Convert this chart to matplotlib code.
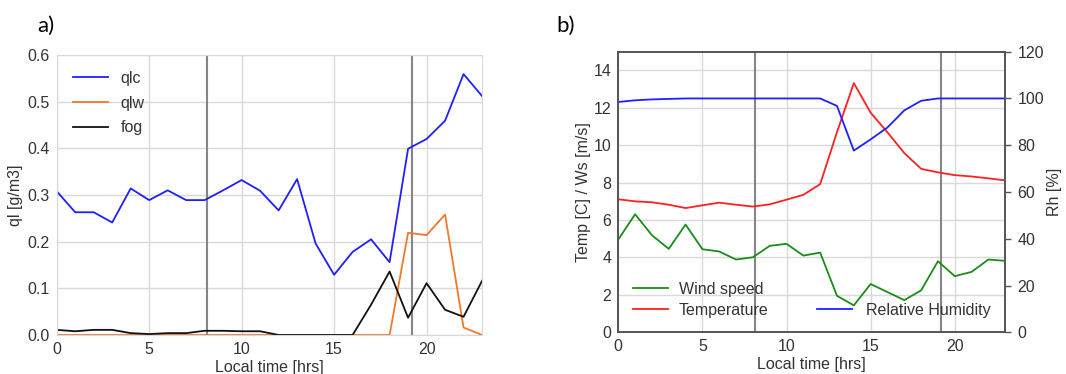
import matplotlib.pyplot as plt

# hourly values, local time 0..23
hours = list(range(24))

qlc = [0.308, 0.263, 0.263, 0.241, 0.314, 0.289, 0.310, 0.289, 0.289, 0.310,
       0.332, 0.309, 0.267, 0.334, 0.196, 0.129, 0.178, 0.205, 0.156, 0.399,
       0.420, 0.459, 0.559, 0.512]
qlw = [0.0, 0.0, 0.0, 0.0, 0.0, 0.0, 0.0, 0.0, 0.0, 0.0,
       0.0, 0.0, 0.0, 0.0, 0.0, 0.0, 0.0, 0.0, 0.0, 0.219,
       0.214, 0.258, 0.016, 0.0]
fog = [0.011, 0.008, 0.011, 0.011, 0.004, 0.002, 0.004, 0.004, 0.009, 0.009,
       0.008, 0.008, 0.0, 0.0, 0.0, 0.0, 0.0, 0.065, 0.136, 0.037,
       0.111, 0.054, 0.039, 0.116]

wind = [4.96, 6.31, 5.19, 4.46, 5.76, 4.44, 4.32, 3.89, 4.01, 4.62,
        4.73, 4.10, 4.26, 1.95, 1.44, 2.58, 2.15, 1.72, 2.24, 3.80,
        3.00, 3.23, 3.89, 3.82]
temp = [7.11, 7.00, 6.95, 6.82, 6.64, 6.79, 6.93, 6.82, 6.72, 6.84,
        7.09, 7.35, 7.92, 10.7, 13.32, 11.74, 10.69, 9.58, 8.74, 8.55,
        8.40, 8.33, 8.23, 8.12]
rh = [98.5, 99.2, 99.6, 99.8, 100, 100, 100, 100, 100, 100,
      100, 100, 100, 96.8, 77.7, 82.5, 87.6, 94.9, 99.0, 100,
      100, 100, 100, 100]

# sunrise / sunset markers
sun_times = [8.15, 19.2]

txt = '#333333'
grid_c = '#d9d9d9'
plt.rcParams['font.family'] = ['Liberation Sans', 'DejaVu Sans']
plt.rcParams['font.size'] = 11.5
plt.rcParams['text.color'] = txt
plt.rcParams['axes.labelcolor'] = txt
plt.rcParams['xtick.color'] = txt
plt.rcParams['ytick.color'] = txt

fig = plt.figure(figsize=(10.66, 3.74), dpi=100)
ax1 = fig.add_axes([0.0532, 0.1043, 0.399, 0.7487])
ax2 = fig.add_axes([0.580, 0.1115, 0.363, 0.7503])


def style(ax):
    ax.set_xlim(0, 23)
    ax.grid(True, color=grid_c, linewidth=1)
    ax.set_axisbelow(True)
    ax.tick_params(length=0, pad=5)
    ax.set_xticks([0, 5, 10, 15, 20])
    for t in sun_times:
        ax.axvline(t, color='#858585', linewidth=1.5, zorder=1)
    ax.set_xlabel('Local time [hrs]', labelpad=2)


# a) liquid water content
style(ax1)
ax1.plot(hours, qlc, color='#1f1fff', lw=1.3, label='qlc')
ax1.plot(hours, qlw, color='#ee7a2a', lw=1.3, label='qlw')
ax1.plot(hours, fog, color='#111111', lw=1.3, label='fog')
ax1.set_ylim(0, 0.6)
ax1.set_yticks([0, 0.1, 0.2, 0.3, 0.4, 0.5, 0.6])
ax1.set_yticklabels(['0.0', '0.1', '0.2', '0.3', '0.4', '0.5', '0.6'])
ax1.set_ylabel('ql [g/m3]', labelpad=3)
for s in ax1.spines.values():
    s.set_color(grid_c)
ax1.legend(loc='upper left', frameon=False, handlelength=2.2,
           handletextpad=0.8, labelspacing=0.6, borderaxespad=0.6)

# b) wind, temperature and humidity
style(ax2)
ax2.plot(hours, wind, color='#1a8c1a', lw=1.3, label='Wind speed')
ax2.plot(hours, temp, color='#ff2020', lw=1.3, label='Temperature')
ax2.set_ylim(0, 15)
ax2.set_yticks(range(0, 15, 2))
ax2.set_ylabel('Temp [C] / Ws [m/s]', labelpad=2)
for s in ax2.spines.values():
    s.set_color('#555555')
    s.set_linewidth(1.2)
ax2.legend(loc='lower left', frameon=False, handlelength=2.2,
           handletextpad=0.7, labelspacing=0.4, borderaxespad=0.5)

ax3 = ax2.twinx()
ax3.plot(hours, rh, color='#1f1fff', lw=1.3, label='Relative Humidity')
ax3.set_ylim(0, 120)
ax3.set_yticks(range(0, 121, 20))
ax3.tick_params(length=4, width=1, color='#555555', pad=5)
ax3.set_ylabel('Rh [%]', labelpad=2)
for s in ax3.spines.values():
    s.set_color('#555555')
    s.set_linewidth(1.2)
ax3.legend(loc='lower right', frameon=False, handlelength=2.2,
           handletextpad=0.9, borderaxespad=0.5)

fig.text(0.035, 0.915, 'a)', fontsize=16, family=['Lato', 'DejaVu Sans'], color='black')
fig.text(0.522, 0.915, 'b)', fontsize=16, family=['Lato', 'DejaVu Sans'], color='black')

fig.savefig('out.png', dpi=100)
